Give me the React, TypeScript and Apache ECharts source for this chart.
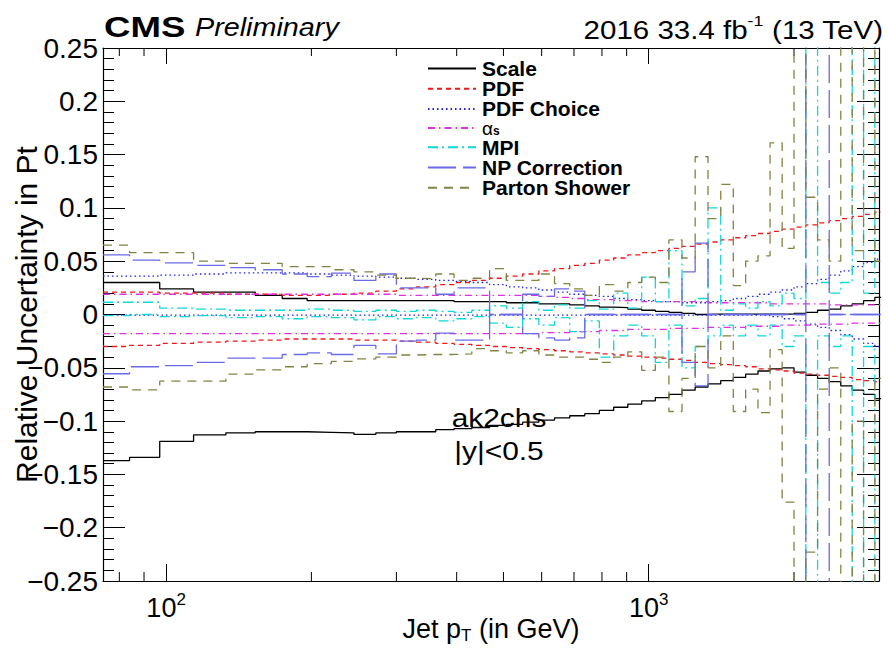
import React, { useEffect, useRef } from 'react';
import * as echarts from 'echarts';

// Jet pT bin edges (GeV)
const ptEdges = [74, 84, 97, 114, 133, 153, 174, 196, 220, 245, 272, 300, 330, 362, 395, 430, 468, 507, 548, 592, 638, 686, 737, 790, 846, 905, 967, 1032, 1101, 1172, 1248, 1327, 1410, 1497, 1588, 1684, 1784, 1890, 2000, 2116, 2238, 2366, 2500, 2640, 2787, 2941, 3103];

const scaleUp = [0.030, 0.030, 0.024, 0.021, 0.021, 0.018, 0.015, 0.013, 0.013, 0.013, 0.013, 0.013, 0.013, 0.013, 0.012, 0.012, 0.012, 0.011, 0.011, 0.010, 0.010, 0.009, 0.008, 0.007, 0.0065, 0.005, 0.004, 0.003, 0.002, 0.001, 0.000, 0.0003, 0.0003, 0.0003, 0.0003, 0.0003, 0.0003, 0.0003, 0.001, 0.002, 0.004, 0.005, 0.008, 0.010, 0.013, 0.016];
const scaleDown = [-0.137, -0.134, -0.119, -0.113, -0.111, -0.110, -0.110, -0.1105, -0.111, -0.1125, -0.111, -0.110, -0.110, -0.108, -0.107, -0.106, -0.104, -0.103, -0.101, -0.099, -0.097, -0.095, -0.093, -0.090, -0.087, -0.084, -0.081, -0.078, -0.075, -0.071, -0.068, -0.065, -0.062, -0.059, -0.056, -0.053, -0.051, -0.050, -0.054, -0.057, -0.060, -0.063, -0.067, -0.071, -0.075, -0.079];

const pdfUp = [0.021, 0.021, 0.020, 0.020, 0.019, 0.019, 0.018, 0.018, 0.019, 0.020, 0.022, 0.024, 0.026, 0.028, 0.030, 0.032, 0.034, 0.036, 0.038, 0.041, 0.043, 0.046, 0.048, 0.051, 0.053, 0.056, 0.058, 0.060, 0.062, 0.064, 0.066, 0.068, 0.070, 0.072, 0.074, 0.076, 0.078, 0.080, 0.082, 0.084, 0.086, 0.088, 0.090, 0.092, 0.094, 0.096];
const pdfDown = [-0.030, -0.029, -0.027, -0.026, -0.025, -0.024, -0.023, -0.023, -0.023, -0.024, -0.024, -0.025, -0.026, -0.027, -0.028, -0.029, -0.030, -0.031, -0.032, -0.033, -0.034, -0.035, -0.036, -0.037, -0.038, -0.039, -0.040, -0.041, -0.042, -0.043, -0.045, -0.046, -0.047, -0.048, -0.049, -0.051, -0.052, -0.053, -0.055, -0.056, -0.057, -0.058, -0.059, -0.061, -0.062, -0.063];

const pdfChoiceUp = [0.036, 0.036, 0.037, 0.038, 0.039, 0.039, 0.039, 0.038, 0.037, 0.036, 0.035, 0.034, 0.033, 0.032, 0.031, 0.030, 0.028, 0.026, 0.025, 0.023, 0.021, 0.019, 0.018, 0.017, 0.015, 0.014, 0.013, 0.012, 0.012, 0.011, 0.011, 0.012, 0.013, 0.015, 0.017, 0.019, 0.021, 0.023, 0.026, 0.029, 0.033, 0.037, 0.041, 0.045, 0.049, 0.052];
const pdfChoiceDown = [-0.0005, -0.0005, -0.0005, -0.0005, -0.0005, -0.0005, -0.0005, -0.0005, -0.0005, -0.0005, -0.0005, -0.0005, -0.0005, -0.0005, -0.0005, -0.0005, -0.0005, -0.0005, -0.0005, -0.0005, -0.0005, -0.0005, -0.0005, -0.0005, -0.0005, -0.0005, -0.0005, -0.0005, -0.0005, -0.0005, -0.0005, -0.0005, -0.0005, -0.0005, -0.0005, -0.001, -0.002, -0.004, -0.006, -0.009, -0.012, -0.015, -0.019, -0.023, -0.027, -0.030];

const alphaUp = [0.019, 0.019, 0.019, 0.019, 0.019, 0.019, 0.019, 0.019, 0.019, 0.019, 0.019, 0.018, 0.018, 0.018, 0.018, 0.018, 0.018, 0.018, 0.018, 0.017, 0.016, 0.015, 0.014, 0.014, 0.013, 0.013, 0.012, 0.012, 0.012, 0.012, 0.012, 0.011, 0.011, 0.011, 0.011, 0.011, 0.010, 0.010, 0.010, 0.010, 0.010, 0.009, 0.009, 0.009, 0.009, 0.009];
const alphaDown = [-0.018, -0.018, -0.018, -0.018, -0.018, -0.018, -0.018, -0.018, -0.018, -0.018, -0.018, -0.018, -0.018, -0.018, -0.018, -0.018, -0.018, -0.018, -0.018, -0.017, -0.017, -0.016, -0.016, -0.015, -0.015, -0.014, -0.014, -0.014, -0.013, -0.013, -0.013, -0.012, -0.012, -0.012, -0.011, -0.011, -0.011, -0.010, -0.010, -0.010, -0.009, -0.009, -0.009, -0.008, -0.008, -0.008];

const mpiUp = [0.0115, 0.0115, 0.006, 0.005, 0.004, 0.004, 0.004, 0.005, 0.004, 0.003, 0.004, 0.003, 0.004, 0.003, 0.002, 0.004, 0.008, 0.006, 0.012, 0.004, 0.009, 0.006, 0.013, 0.005, 0.020, 0.006, 0.035, 0.012, 0.060, 0.008, 0.015, 0.100, 0.004, 0.010, 0.006, 0.012, 0.008, 0.020, 0.015, 0.400, 0.030, 0.020, 0.030, 0.400, 0.020, 0.400];
const mpiDown = [-0.001, 0.000, -0.002, -0.001, -0.003, -0.002, -0.004, -0.002, -0.003, -0.005, -0.002, -0.004, -0.003, -0.006, -0.004, -0.002, -0.008, -0.012, -0.004, -0.010, -0.003, -0.016, -0.006, -0.040, -0.020, -0.010, -0.020, -0.045, -0.010, -0.050, -0.030, -0.020, -0.010, -0.020, -0.010, -0.020, -0.010, -0.030, -0.020, -0.400, -0.020, -0.030, -0.020, -0.400, -0.030, -0.400];

const npUp = [0.056, 0.051, 0.0485, 0.046, 0.044, 0.042, 0.038, 0.0356, 0.0388, 0.032, 0.038, 0.025, 0.025, 0.019, 0.025, 0.025, 0.000, 0.000, 0.019, 0.017, 0.024, 0.022, 0.000, 0.000, 0.000, 0.000, 0.000, 0.000, 0.000, 0.040, 0.067, 0.000, 0.000, 0.000, 0.000, 0.000, 0.000, 0.000, 0.000, 0.400, 0.400, 0.000, 0.000, 0.000, 0.000, 0.000];
const npDown = [-0.0556, -0.049, -0.048, -0.045, -0.041, -0.041, -0.0375, -0.036, -0.0375, -0.029, -0.037, -0.025, -0.024, -0.0175, -0.024, -0.024, 0.000, 0.000, -0.018, -0.022, -0.024, -0.022, 0.000, 0.000, 0.000, 0.000, 0.000, 0.000, 0.000, -0.045, -0.067, 0.000, 0.000, 0.000, 0.000, 0.000, 0.000, 0.000, 0.000, -0.400, -0.400, 0.000, 0.000, 0.000, 0.000, 0.000];

const psUp = [0.065, 0.058, 0.058, 0.050, 0.048, 0.048, 0.045, 0.045, 0.042, 0.040, 0.037, 0.034, 0.0335, 0.038, 0.032, 0.034, 0.043, 0.032, 0.032, 0.038, 0.029, 0.024, 0.018, 0.028, 0.022, 0.030, 0.035, 0.030, 0.070, 0.053, 0.148, 0.090, 0.122, 0.027, 0.050, 0.055, 0.161, 0.062, 0.400, 0.110, 0.070, 0.050, 0.400, 0.060, 0.400, 0.050];
const psDown = [-0.068, -0.0707, -0.0625, -0.0625, -0.056, -0.052, -0.049, -0.046, -0.044, -0.0416, -0.040, -0.038, -0.0375, -0.0375, -0.037, -0.032, -0.034, -0.036, -0.034, -0.038, -0.040, -0.040, -0.042, -0.045, -0.040, -0.035, -0.0525, -0.040, -0.091, -0.060, -0.030, -0.050, -0.020, -0.091, -0.070, -0.092, -0.033, -0.176, -0.400, -0.223, -0.070, -0.050, -0.400, -0.100, -0.400, -0.060];

const legendNames = ['Scale', 'PDF', 'PDF Choice', 'αs', 'MPI', 'NP Correction', 'Parton Shower'];
const xMinorTicks = [80, 90, 200, 300, 400, 500, 600, 700, 800, 900, 2000];

const FONT = '"Liberation Sans", Arial, Helvetica, sans-serif';

const systematics = [
  { name: 'Scale', up: scaleUp, down: scaleDown, color: '#000000', dash: 'solid' as any },
  { name: 'PDF', up: pdfUp, down: pdfDown, color: '#f01818', dash: [5, 4] },
  { name: 'PDF Choice', up: pdfChoiceUp, down: pdfChoiceDown, color: '#2020e8', dash: [1.5, 3] },
  { name: 'αs', up: alphaUp, down: alphaDown, color: '#e030e0', dash: [7, 4, 1.5, 4] },
  { name: 'MPI', up: mpiUp, down: mpiDown, color: '#10d8d8', dash: [10, 4, 2, 4] },
  { name: 'NP Correction', up: npUp, down: npDown, color: '#6a6ae8', dash: [28, 7] },
  { name: 'Parton Shower', up: psUp, down: psDown, color: '#838343', dash: [9, 7] },
];

function toSteps(vals: number[]) {
  const pts: number[][] = vals.map((v, i) => [ptEdges[i], v]);
  pts.push([ptEdges[vals.length], vals[vals.length - 1]]);
  return pts;
}

function yLabel(v: number) {
  const r = Math.round(v * 100) / 100;
  if (r === 0) return '0';
  return (r < 0 ? '\u2212' : '') + String(Math.abs(r));
}

function xLabel(v: number) {
  const e = Math.log10(v);
  if (Math.abs(e - Math.round(e)) > 1e-6) return '';
  return '{b|10}{s|' + Math.round(e) + '}';
}

export default function App() {
  const ref = useRef<HTMLDivElement>(null);
  useEffect(() => {
    if (!ref.current) return;
    const chart = echarts.init(ref.current, null, { renderer: 'svg' });
    const series: any[] = [];
    systematics.forEach((s) => {
      [s.up, s.down].forEach((vals) => {
        series.push({
          name: s.name,
          type: 'line',
          step: 'end',
          data: toSteps(vals),
          symbol: 'none',
          showSymbol: false,
          clip: true,
          silent: true,
          itemStyle: { color: s.color },
          lineStyle: { color: s.color, width: 1.3, type: s.dash },
        });
      });
    });
    series.push({
      type: 'custom',
      silent: true,
      clip: false,
      data: xMinorTicks.map((v) => [v, 0]),
      encode: { x: 0, y: 1 },
      renderItem: (params: any, api: any) => {
        const v = api.value(0);
        const b = api.coord([v, -0.25]);
        const t = api.coord([v, 0.25]);
        return {
          type: 'group',
          children: [
            { type: 'line', shape: { x1: b[0], y1: b[1], x2: b[0], y2: b[1] - 9 }, style: { stroke: '#000', lineWidth: 1 } },
            { type: 'line', shape: { x1: t[0], y1: t[1], x2: t[0], y2: t[1] + 8 }, style: { stroke: '#000', lineWidth: 1 } },
          ],
        };
      },
    });

    const axisLineStyle = { show: true, onZero: false, lineStyle: { color: '#000', width: 1.2 } };

    const option: any = {
      animation: false,
      backgroundColor: '#ffffff',
      textStyle: { fontFamily: FONT },
      grid: { left: 103, right: 9, top: 48, bottom: 69, containLabel: false, outerBoundsMode: 'none' },
      xAxis: [
        {
          type: 'log',
          logBase: 10,
          min: 74,
          max: 3000,
          position: 'bottom',
          axisLine: axisLineStyle,
          axisTick: { show: true, inside: true, length: 17, lineStyle: { color: '#000', width: 1 } },
          splitLine: { show: false },
          axisLabel: {
            show: true,
            margin: 10,
            showMinLabel: false,
            showMaxLabel: false,
            formatter: xLabel,
            color: '#000',
            rich: {
              b: { fontSize: 27, fontFamily: FONT, color: '#000', lineHeight: 30, verticalAlign: 'bottom' },
              s: { fontSize: 17, fontFamily: FONT, color: '#000', lineHeight: 30, verticalAlign: 'top' },
            },
          },
          name: '{a|Jet p}{t|T}{a| (in GeV)}',
          nameLocation: 'middle',
          nameGap: 33,
          nameMoveOverlap: false,
          nameTextStyle: {
            color: '#000',
            rich: {
              a: { fontSize: 27, fontFamily: FONT, color: '#000', lineHeight: 30, verticalAlign: 'middle' },
              t: { fontSize: 17, fontFamily: FONT, color: '#000', lineHeight: 30, verticalAlign: 'bottom' },
            },
          },
        },
        {
          type: 'log',
          logBase: 10,
          min: 74,
          max: 3000,
          position: 'top',
          axisLine: axisLineStyle,
          axisTick: { show: true, inside: true, length: 16, lineStyle: { color: '#000', width: 1 } },
          splitLine: { show: false },
          axisLabel: { show: false },
        },
      ],
      yAxis: [
        {
          type: 'value',
          min: -0.25,
          max: 0.25,
          interval: 0.05,
          position: 'left',
          axisLine: axisLineStyle,
          axisTick: { show: true, inside: true, length: 22, lineStyle: { color: '#000', width: 1 } },
          minorTick: { show: true, splitNumber: 5, length: 11, lineStyle: { color: '#000', width: 1 } },
          splitLine: { show: false },
          minorSplitLine: { show: false },
          axisLabel: { formatter: yLabel, fontSize: 28, color: '#000', fontFamily: FONT, margin: 5 },
          name: 'Relative Uncertainty in Pt',
          nameLocation: 'middle',
          nameGap: 62,
          nameMoveOverlap: false,
          nameTextStyle: { fontSize: 30, color: '#000', fontFamily: FONT },
        },
        {
          type: 'value',
          min: -0.25,
          max: 0.25,
          interval: 0.05,
          position: 'right',
          axisLine: axisLineStyle,
          axisTick: { show: true, inside: true, length: 22, lineStyle: { color: '#000', width: 1 } },
          minorTick: { show: true, splitNumber: 5, length: 11, lineStyle: { color: '#000', width: 1 } },
          splitLine: { show: false },
          minorSplitLine: { show: false },
          axisLabel: { show: false },
        },
      ],
      legend: {
        data: legendNames,
        orient: 'vertical',
        left: 422,
        top: 53,
        itemWidth: 48,
        itemHeight: 12,
        itemGap: -0.8,
        selectedMode: false,
        itemStyle: { opacity: 0, borderWidth: 0 },
        formatter: (name: string) => (name === 'αs' ? '{g|α}{sb|s}' : name),
        textStyle: {
          fontFamily: FONT,
          fontWeight: 'bold',
          fontSize: 21,
          lineHeight: 18.4,
          color: '#000',
          padding: [0, 0, 0, 1],
          rich: {
            g: { fontFamily: FONT, fontSize: 19, fontWeight: 'normal', lineHeight: 18.4, verticalAlign: 'middle', color: '#000' },
            sb: { fontFamily: FONT, fontSize: 12, fontWeight: 'bold', lineHeight: 12, verticalAlign: 'bottom', color: '#000' },
          },
        },
      },
      graphic: [
        { type: 'text', x: 104, y: 27, scaleX: 1.22, style: { text: 'CMS', fontFamily: FONT, fontSize: 30, fontWeight: 'bold', fill: '#000', align: 'left', verticalAlign: 'middle' } },
        { type: 'text', x: 195, y: 28, scaleX: 1.15, style: { text: 'Preliminary', fontFamily: FONT, fontSize: 25, fontStyle: 'italic', fill: '#000', align: 'left', verticalAlign: 'middle' } },
        {
          type: 'text', x: 883, y: 28, scaleX: 1.18,
          style: {
            text: '{a|2016 33.4 fb}{s|-1}{a| (13 TeV)}', align: 'right', verticalAlign: 'middle', fill: '#000',
            rich: {
              a: { fontFamily: FONT, fontSize: 25, lineHeight: 30, verticalAlign: 'bottom', fill: '#000' },
              s: { fontFamily: FONT, fontSize: 15, lineHeight: 30, verticalAlign: 'top', fill: '#000' },
            },
          },
        },
        { type: 'text', x: 499, y: 418, scaleX: 1.15, style: { text: 'ak2chs', fontFamily: FONT, fontSize: 26, fill: '#000', align: 'center', verticalAlign: 'middle' } },
        { type: 'text', x: 499, y: 451, scaleX: 1.15, style: { text: '|y|<0.5', fontFamily: FONT, fontSize: 26, fill: '#000', align: 'center', verticalAlign: 'middle' } },
      ],
      series,
    };
    chart.setOption(option);
    return () => chart.dispose();
  }, []);
  return <div ref={ref} style={{ position: 'fixed', left: 0, top: 0, width: 888, height: 650, background: '#fff' }} />;
}
